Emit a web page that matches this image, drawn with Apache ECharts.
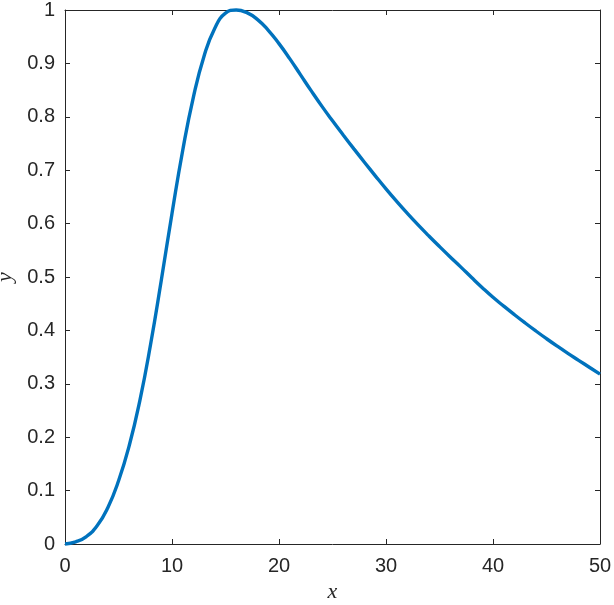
<!DOCTYPE html>
<html>
<head>
<meta charset="utf-8">
<script src="https://cdn.jsdelivr.net/npm/echarts@6/dist/echarts.min.js"></script>
<style>
html,body{margin:0;padding:0;background:#fff;}
#chart{width:614px;height:605px;}
</style>
</head>
<body>
<div id="chart"></div>
<script>
var xValues = [0,1,2,3,4,5,6,7,8,9,10,11,12,13,14,15,16,17,18,19,20,21,22,23,24,25,26,27,28,29,30,31,32,33,34,35,36,37,38,39,40,41,42,43,44,45,46,47,48,49,50];
var yValues = [0,0.004,0.014,0.034,0.068,0.118,0.184,0.269,0.374,0.494,0.619,0.737,0.837,0.914,0.966,0.994,1.0,0.995,0.982,0.962,0.937,0.909,0.879,0.849,0.820,0.7925,0.766,0.740,0.7145,0.6895,0.665,0.6415,0.619,0.5975,0.577,0.557,0.5375,0.5185,0.499,0.480,0.462,0.4455,0.4295,0.414,0.399,0.3845,0.3705,0.357,0.344,0.331,0.318];
var xTicks = {min:0, max:50, interval:10};
var yTicks = {min:0, max:1, interval:0.1};

var data = xValues.map(function(x,i){return [x, yValues[i]];});
var axisColor = '#262626';
var labelFont = {fontFamily:'Liberation Sans, Arial, sans-serif', fontSize:20, color:axisColor};
var nameFont = {fontFamily:'Liberation Serif, DejaVu Serif, serif', fontStyle:'italic', fontSize:22, color:axisColor};

var chart = echarts.init(document.getElementById('chart'), null, {renderer:'canvas'});
chart.setOption({
  animation:false,
  backgroundColor:'#fff',
  grid:{left:65, top:10, right:14, bottom:61, containLabel:false, outerBoundsMode:'none'},
  xAxis:[{
    type:'value', min:xTicks.min, max:xTicks.max, interval:xTicks.interval,
    name:'x', nameLocation:'middle', nameGap:36, nameTextStyle:nameFont,
    axisLine:{show:true, onZero:false, lineStyle:{color:axisColor, width:1}},
    axisTick:{show:true, inside:true, length:5, lineStyle:{color:axisColor}},
    axisLabel:Object.assign({margin:12}, labelFont),
    splitLine:{show:false}
  },{
    type:'value', position:'top', min:xTicks.min, max:xTicks.max, interval:xTicks.interval,
    axisLine:{show:true, onZero:false, lineStyle:{color:axisColor, width:1}},
    axisTick:{show:true, inside:true, length:5, lineStyle:{color:axisColor}},
    axisLabel:{show:false}, splitLine:{show:false}
  }],
  yAxis:[{
    type:'value', min:yTicks.min, max:yTicks.max, interval:yTicks.interval,
    name:'y', nameLocation:'middle', nameGap:49, nameRotate:90, nameTextStyle:nameFont,
    axisLine:{show:true, onZero:false, lineStyle:{color:axisColor, width:1}},
    axisTick:{show:true, inside:true, length:5, lineStyle:{color:axisColor}},
    axisLabel:Object.assign({margin:10, formatter:function(v){return String(+v.toFixed(1));}}, labelFont),
    splitLine:{show:false}
  },{
    type:'value', position:'right', min:yTicks.min, max:yTicks.max, interval:yTicks.interval,
    axisLine:{show:true, onZero:false, lineStyle:{color:axisColor, width:1}},
    axisTick:{show:true, inside:true, length:5, lineStyle:{color:axisColor}},
    axisLabel:{show:false}, splitLine:{show:false}
  }],
  series:[{
    type:'line', data:data, showSymbol:false, symbol:'none', smooth:0.5,
    lineStyle:{color:'#0072BD', width:3.4}, clip:false
  }]
});
</script>
</body>
</html>
